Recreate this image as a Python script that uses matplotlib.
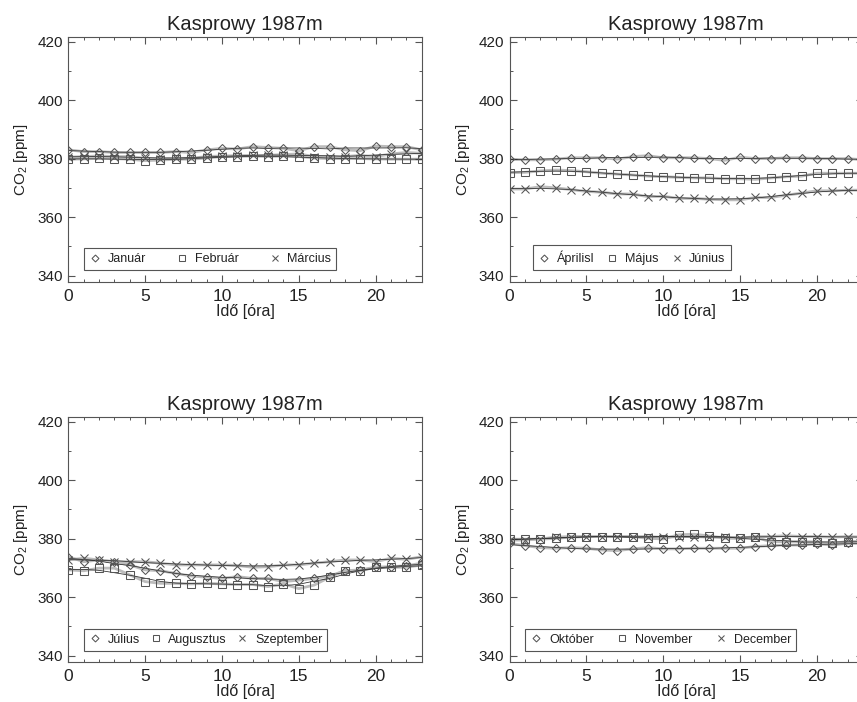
import numpy as np
import matplotlib
matplotlib.use('Agg')
import matplotlib.pyplot as plt

plt.rcParams['font.family'] = ['Liberation Sans', 'DejaVu Sans']
plt.rcParams['mathtext.fontset'] = 'custom'
plt.rcParams['mathtext.rm'] = 'Liberation Sans'

# hours of the day
hours = np.arange(24)

# Jan / Feb / Mar
januar = [383.0, 382.4, 382.4, 382.1, 382.1, 382.1, 382.1, 382.4, 382.1, 383.0, 383.5, 383.3,
          384.1, 383.8, 383.5, 382.7, 384.1, 384.1, 383.0, 382.7, 384.3, 384.1, 384.1, 383.0]
februar = [379.8, 379.9, 380.1, 380.0, 379.8, 379.3, 379.5, 379.8, 379.8, 380.2, 380.7, 380.7,
           380.9, 380.7, 380.9, 380.7, 380.2, 380.0, 380.0, 380.0, 379.9, 379.8, 379.8, 379.8]
marcius = [380.5, 380.7, 380.9, 380.7, 380.7, 380.1, 380.0, 380.1, 380.1, 380.7, 380.9, 381.0,
           381.1, 381.1, 381.4, 381.6, 380.7, 380.7, 380.7, 381.1, 380.7, 381.6, 382.1, 381.8]

# Apr / May / Jun
aprilis = [379.8, 379.6, 379.6, 379.8, 380.3, 380.3, 380.3, 379.8, 380.7, 381.0, 380.3, 380.3,
           380.3, 380.0, 379.4, 380.5, 380.0, 380.0, 380.3, 380.3, 380.0, 380.0, 380.0, 379.6]
majus = [375.2, 375.3, 375.8, 376.1, 375.9, 375.5, 375.0, 374.7, 374.4, 374.0, 373.8, 373.6,
         373.4, 373.4, 373.1, 373.1, 372.9, 373.4, 373.8, 374.0, 375.0, 375.0, 375.0, 375.0]
junius = [369.6, 369.6, 370.4, 370.0, 369.4, 368.8, 368.5, 367.9, 367.9, 367.0, 367.1, 366.4,
          366.4, 366.1, 365.9, 365.9, 366.7, 366.7, 367.5, 368.2, 369.0, 369.0, 369.2, 369.2]

# Jul / Aug / Sep
julius = [373.8, 372.1, 372.7, 372.0, 371.0, 369.3, 369.0, 368.1, 367.2, 366.8, 366.4, 367.0,
          366.4, 366.4, 365.3, 365.8, 366.4, 367.2, 369.0, 369.3, 370.2, 370.4, 370.7, 371.6]
augusztus = [369.3, 369.0, 369.9, 369.9, 367.6, 365.3, 364.7, 364.7, 364.5, 364.7, 364.5, 364.3,
             364.3, 363.6, 364.5, 362.9, 364.1, 366.8, 369.0, 369.0, 370.2, 370.2, 370.2, 371.0]
szeptember = [372.7, 373.3, 372.7, 372.1, 372.1, 372.1, 371.6, 371.0, 371.0, 371.0, 371.0, 370.8,
              370.2, 370.4, 371.0, 371.0, 371.6, 372.1, 372.7, 372.7, 372.1, 373.3, 372.9, 373.8]

# Oct / Nov / Dec
oktober = [378.4, 377.6, 376.9, 376.7, 376.9, 376.7, 376.1, 375.9, 376.5, 376.9, 376.5, 376.5,
           376.7, 376.7, 376.7, 376.7, 377.3, 377.6, 377.8, 377.8, 378.2, 377.8, 378.4, 378.4]
november = [379.8, 379.8, 379.8, 380.1, 380.5, 380.7, 380.7, 380.7, 380.7, 380.1, 379.9, 381.3,
            381.5, 380.9, 380.1, 380.1, 380.5, 378.9, 379.0, 379.0, 378.8, 378.4, 379.0, 379.1]
december = [379.5, 379.5, 379.9, 380.5, 380.7, 380.7, 380.7, 380.7, 380.7, 380.7, 380.4, 380.7,
            380.7, 380.5, 380.5, 380.1, 380.7, 380.7, 381.0, 380.7, 380.7, 380.5, 380.7, 380.5]

panels = [
    (['Január', 'Február', 'Március'], [januar, februar, marcius]),
    (['Áprilisl', 'Május', 'Június'], [aprilis, majus, junius]),
    (['Július', 'Augusztus', 'Szeptember'], [julius, augusztus, szeptember]),
    (['Október', 'November', 'December'], [oktober, november, december]),
]

markers = ['D', 's', 'x']
msizes = [4.4, 6.0, 6.0]
txt = '#222222'
frame = '#555555'

W, H = 857, 702
fig = plt.figure(figsize=(W / 100, H / 100), dpi=100)

# axes boxes in pixels: left, top
boxes = [(68.3, 36.7), (509.6, 36.7), (68.3, 416.7), (509.6, 416.7)]
aw, ah = 353.4, 245.0
leg_x = [0.044, 0.066, 0.044, 0.044]
leg_y = [0.048, 0.048, 0.045, 0.045]
colsp = [2.4, 0.96, 0.76, 1.8]


def smooth(v, n=5):
    v = np.asarray(v)
    p = np.pad(v, n // 2, mode='edge')
    return np.convolve(p, np.ones(n) / n, mode='valid')


for i, (names, series) in enumerate(panels):
    l, t = boxes[i]
    ax = fig.add_axes([l / W, 1 - (t + ah) / H, aw / W, ah / H])
    for name, vals, mk, ms in zip(names, series, markers, msizes):
        ax.plot(hours, vals, color='#bcbcbc', lw=2.0, zorder=1)
        ax.plot(hours, smooth(vals), color='#2a2a2a', lw=0.55, zorder=2)
        ax.plot(hours, vals, ls='none', marker=mk, ms=ms, mfc='none', mec='#555555',
                mew=0.75, zorder=3, label=name)
    ax.set_xlim(0, 23)
    ax.set_ylim(337.9, 421.7)
    ax.set_xticks([0, 5, 10, 15, 20])
    ax.set_xticks(np.arange(0, 24), minor=True)
    ax.set_yticks([340, 360, 380, 400, 420])
    ax.set_yticks(np.arange(340, 421, 10), minor=True)
    ax.tick_params(which='both', direction='in', top=True, right=True, colors=frame,
                   labelcolor=txt)
    ax.tick_params(which='major', length=5, width=0.8)
    ax.tick_params(which='minor', length=2.5, width=0.7)
    ax.tick_params(axis='x', pad=5, labelsize=12.5)
    ax.tick_params(axis='y', pad=4, labelsize=11)
    for s in ax.spines.values():
        s.set_color(frame)
        s.set_linewidth(0.8)
    ax.set_title('Kasprowy 1987m', fontsize=14.5, color=txt, pad=5)
    ax.set_xlabel('Idő [óra]', fontsize=11.5, color=txt, labelpad=0.5)
    ax.set_ylabel(r'CO$_\mathregular{2}$ [ppm]', fontsize=11, color=txt, labelpad=5)
    leg = ax.legend(loc='lower left', bbox_to_anchor=(leg_x[i], leg_y[i]), borderaxespad=0,
                    ncol=3, fontsize=9, handlelength=1.0, handletextpad=0.5,
                    columnspacing=colsp[i], borderpad=0.4, fancybox=False, framealpha=1,
                    edgecolor=frame, markerscale=0.8)
    leg.get_frame().set_linewidth(0.8)
    for tx in leg.get_texts():
        tx.set_color(txt)

fig.savefig('out.png', dpi=100)
